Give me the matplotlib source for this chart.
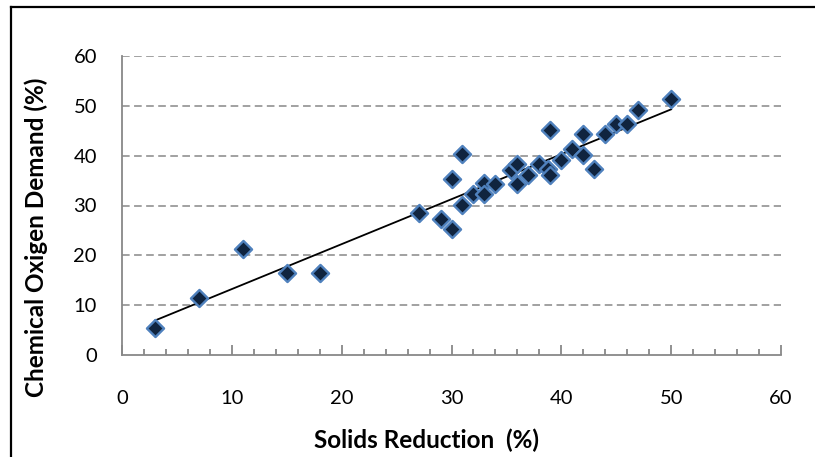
import numpy as np
import matplotlib
matplotlib.use("Agg")
import matplotlib.pyplot as plt
from matplotlib.lines import Line2D
from matplotlib.ticker import MultipleLocator

# Data
solids_reduction = [3, 7, 11, 15, 18, 27, 29, 30, 30, 31, 31, 32, 33, 33, 34,
                    35.4, 36, 36, 37, 38, 38.8, 39, 39, 40, 41, 42, 42, 43, 44, 45, 46, 47, 50]
cod = [5.4, 11.4, 21.2, 16.4, 16.4, 28.4, 27.3, 25.2, 35.3, 40.3, 30.2, 32.3, 34.5, 32.3, 34.4,
       37.2, 38.3, 34.3, 36.1, 38.3, 37.4, 45.2, 36.1, 39.2, 41.4, 44.3, 40.2, 37.4, 44.3, 46.3, 46.3, 49.2, 51.3]
x_ticks = [0, 10, 20, 30, 40, 50, 60]
y_ticks = [0, 10, 20, 30, 40, 50, 60]
x_label = "Solids Reduction  (%)"
y_label = "Chemical Oxigen Demand (%)"

W, H = 815, 457
fig = plt.figure(figsize=(W / 100, H / 100), dpi=100)
ax = fig.add_axes([122 / W, 1 - 355 / H, (781 - 122) / W, (355 - 56) / H])

grid_c = "#888888"
ax.set_xlim(0, 60)
ax.set_ylim(0, 60)
ax.set_xticks(x_ticks)
ax.set_yticks(y_ticks)
ax.xaxis.set_minor_locator(MultipleLocator(2))

for yv in y_ticks[1:]:
    ax.axhline(yv, color=grid_c, lw=1.1, linestyle=(0, (5.0, 2.9)), zorder=1)

# trendline (linear fit)
xs = np.array(solids_reduction, dtype=float)
ys = np.array(cod, dtype=float)
m, b = np.polyfit(xs, ys, 1)
xl = np.array([xs.min(), xs.max()])
ax.plot(xl, m * xl + b, color="black", lw=1.3, zorder=2)

ax.scatter(xs, ys, marker="D", s=76, facecolor="#10243f", edgecolor="#4f81bd",
           linewidth=1.7, zorder=3)

for s in ["top", "right"]:
    ax.spines[s].set_visible(False)
for s in ["left", "bottom"]:
    ax.spines[s].set_color(grid_c)
    ax.spines[s].set_linewidth(1.3)

ax.tick_params(axis="x", which="major", direction="in", length=7, width=1.3,
               color=grid_c, pad=25, labelsize=14.5)
ax.tick_params(axis="x", which="minor", direction="in", length=4.5, width=1.3,
               color=grid_c)
ax.tick_params(axis="y", which="major", length=0, pad=18, labelsize=14.5)
for lab in ax.get_xticklabels() + ax.get_yticklabels():
    lab.set_fontfamily("Lato")

fig.text(426 / W, 1 - 440 / H, x_label, ha="center", va="center",
         fontsize=17.5, fontweight="bold", family="Lato")
fig.text(36 / W, 1 - 237 / H, y_label, ha="center", va="center", rotation=90,
         fontsize=17.5, fontweight="bold", family="Lato")

# outer frame (left and top edges visible)
fig.add_artist(Line2D([11 / W, 11 / W], [0, 1 - 7 / H], color="black", lw=1.6,
                      transform=fig.transFigure))
fig.add_artist(Line2D([11 / W, 1], [1 - 7 / H, 1 - 7 / H], color="black", lw=1.6,
                      transform=fig.transFigure))

fig.savefig("out.png", dpi=100)
